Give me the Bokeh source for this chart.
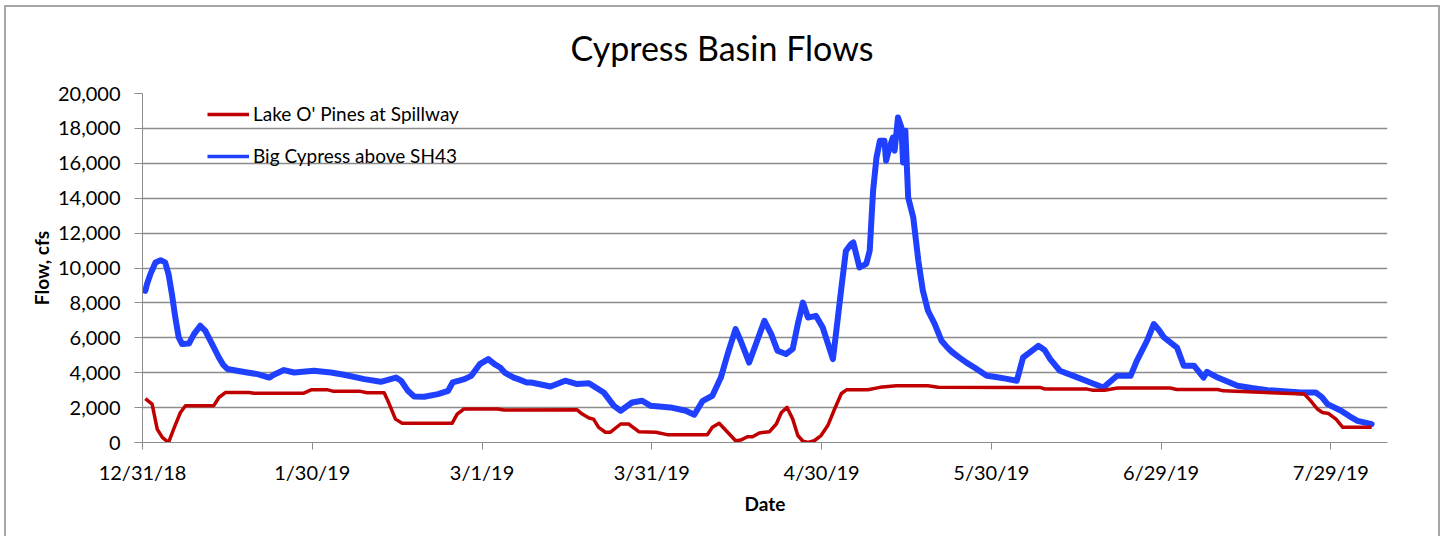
import pandas as pd
from bokeh.plotting import figure
from bokeh.models import (ColumnDataSource, FixedTicker, NumeralTickFormatter,
                          Range1d, Legend, LegendItem)
from bokeh.embed import file_html
from bokeh.resources import INLINE

TITLE = "Cypress Basin Flows"
X_LABEL = "Date"
Y_LABEL = "Flow, cfs"
START = "2018-12-31"
END = "2019-08-08"
tick_labels = ["12/31/18", "1/30/19", "3/1/19", "3/31/19",
               "4/30/19", "5/30/19", "6/29/19", "7/29/19"]
y_ticks = [0, 2000, 4000, 6000, 8000, 10000, 12000, 14000, 16000, 18000, 20000]

red_name = "Lake O' Pines at Spillway"
red_day = [0.5, 1.7, 2.6, 3.5, 4.6, 5.5, 6.7, 7.6, 12.6, 13.5, 14.7, 18.8, 19.7,
           28.4, 29.9, 32.6, 33.8, 38.5, 39.7, 42.7, 43.5, 44.7, 45.9, 54.7,
           55.6, 56.8, 62.7, 63.9, 76.8, 77.7, 78.9, 79.7, 80.6, 81.8, 82.7,
           84.5, 85.9, 87.7, 90.7, 92.7, 99.8, 100.7, 101.9, 103.4, 104.8,
           105.7, 106.9, 107.8, 109.0, 110.8, 112.0, 112.9, 113.9, 114.9,
           115.8, 116.7, 117.6, 118.7, 119.9, 121.1, 122.3, 123.5, 124.4,
           128.2, 130.3, 133.2, 138.8, 140.6, 158.7, 159.5, 166.9, 167.8,
           170.0, 172.3, 181.6, 182.8, 190.0, 191.0, 205.3, 206.4, 207.6,
           208.5, 209.6, 210.9, 212.1, 217.2]
red_cfs = [2520, 2200, 770, 290, 0, 770, 1720, 2110, 2110, 2580, 2870, 2870, 2820,
           2820, 3030, 3030, 2930, 2930, 2850, 2850, 2290, 1340, 1100, 1100,
           1630, 1920, 1920, 1860, 1870, 1630, 1400, 1340, 870, 590, 590,
           1060, 1060, 620, 590, 450, 450, 870, 1100, 590, 100,
           140, 330, 330, 550, 620, 1060, 1720, 2010, 1340,
           400, 70, 0, 100, 400, 970, 1920, 2810, 3020,
           3020, 3160, 3250, 3250, 3170, 3150, 3060, 3060, 3000,
           3000, 3120, 3120, 3040, 3040, 2960, 2780, 2400, 1920,
           1720, 1660, 1340, 870, 870]

blue_name = "Big Cypress above SH43"
blue_day = [0.5, 0.8, 1.4, 2.3, 3.2, 4.0, 4.6, 5.2, 5.8, 6.4, 7.0, 8.2, 9.1, 10.2,
            11.1, 12.3, 13.5, 14.2, 15.0, 16.7, 18.5, 20.3, 22.4, 23.2, 25.0,
            26.8, 30.3, 33.3, 35.6, 39.2, 42.1, 44.8, 45.7, 46.9, 48.0, 49.8,
            52.2, 54.0, 54.8, 56.9, 58.1, 59.6, 61.1, 62.2, 63.2, 64.0, 65.6,
            66.4, 67.9, 68.7, 72.1, 74.7, 76.8, 78.9, 81.5, 83.3, 84.5, 86.5,
            88.3, 89.8, 93.3, 96.0, 97.5, 99.0, 100.7, 102.2, 103.4, 104.8,
            105.7, 107.2, 108.4, 109.9, 111.1, 112.2, 113.7, 114.9, 115.8,
            116.7, 117.6, 119.0, 120.2, 122.0, 122.6, 123.5, 124.3, 125.2,
            125.6, 126.7, 127.9, 128.5, 129.1, 129.7, 130.3, 131.1, 131.4,
            132.0, 132.6, 132.9, 133.5, 134.1, 134.4, 134.8, 135.3, 136.2,
            137.1, 137.9, 138.8, 140.0, 141.2, 142.2, 143.0, 144.3, 145.6,
            147.0, 149.2, 150.5, 152.5, 154.5, 155.6, 156.8, 158.3, 159.4,
            160.4, 162.1, 164.5, 167.5, 169.8, 172.2, 174.6, 175.7, 177.5,
            178.7, 179.6, 180.5, 182.8, 184.0, 185.8, 187.5, 188.1, 190.0,
            193.5, 196.0, 198.8, 204.7, 207.3, 208.4, 209.4, 211.8, 213.3,
            214.7, 217.2]
blue_cfs = [8690, 9080, 9650, 10320, 10450, 10320, 9650, 8500, 7160, 6020, 5640,
            5670, 6210, 6690, 6400, 5640, 4870, 4480, 4210, 4110, 4010, 3920,
            3720, 3880, 4150, 4010, 4110, 4010, 3880, 3630, 3480, 3720, 3540,
            2960, 2640, 2620, 2770, 2960, 3440, 3630, 3820, 4490, 4780, 4490,
            4300, 4010, 3720, 3630, 3440, 3440, 3210, 3540, 3350, 3400, 2870,
            2100, 1820, 2290, 2390, 2100, 2010, 1820, 1590, 2390, 2680, 3720,
            5070, 6500, 5830, 4580, 5640, 6970, 6210, 5260, 5070, 5370, 6790,
            8020, 7160, 7260, 6590, 4780, 6400, 8880, 10990, 11370, 11460,
            10030, 10240, 10990, 14420, 16330, 17290, 17290, 16140, 16900,
            17480, 16720, 18620, 18050, 16050, 17860, 14040, 12890, 10410,
            8690, 7550, 6790, 5830, 5450, 5200, 4880, 4580, 4300, 3820, 3770,
            3660, 3540, 4870, 5160, 5540, 5300, 4780, 4110, 3820, 3440, 3150,
            3820, 3820, 4680, 5830, 6790, 6450, 6020, 5440, 4400, 4400, 3720,
            4050, 3720, 3250, 3120, 3000, 2870, 2870, 2600, 2200, 1820, 1500,
            1240, 1050]

RED = "#c00000"
BLUE = "#2040ff"
FONT = "Lato"
NAN = float("nan")

t0 = pd.Timestamp(START)
red_x = t0 + pd.to_timedelta(red_day, unit="D")
blue_x = t0 + pd.to_timedelta(blue_day, unit="D")
tick_dates = pd.to_datetime(tick_labels, format="%m/%d/%y")
tick_ms = [float(d.value // 10**6) for d in tick_dates]

p = figure(width=1441, height=536, x_axis_type="datetime",
           x_range=Range1d(t0, pd.Timestamp(END)), y_range=Range1d(0, 20000),
           output_backend="svg", toolbar_location=None,
           min_border_left=142, min_border_right=54,
           min_border_top=93, min_border_bottom=94)
p.styles = {"box-shadow": ("inset 4px 5px 0 0 white, inset -1px 0 0 0 white, "
                           "inset 6px 7px 0 0 #a6a6a6, inset -3px 0 0 0 #a6a6a6")}
p.border_fill_alpha = 0
p.background_fill_color = "white"
p.outline_line_color = None

p.title.text = TITLE
p.title.align = "left"
p.title.offset = 428
p.title.text_font = FONT
p.title.text_font_size = "34px"
p.title.text_font_style = "normal"
p.title.text_color = "black"
p.title.vertical_align = "top"
p.title.standoff = 48

p.line(blue_x, blue_cfs, line_color=BLUE, line_width=6, line_join="round",
       line_cap="round")
p.line(red_x, red_cfs, line_color=RED, line_width=3.5, line_join="round")

leg_red = p.line(x=[NAN], y=[NAN], line_color=RED, line_width=3.5)
leg_blue = p.line(x=[NAN], y=[NAN], line_color=BLUE, line_width=3.5)
legend = Legend(items=[LegendItem(label=red_name, renderers=[leg_red]),
                       LegendItem(label=blue_name, renderers=[leg_blue])],
                location=(65, 275), orientation="vertical",
                glyph_width=42, glyph_height=20, label_height=20,
                spacing=19, padding=5, margin=0, label_standoff=4,
                background_fill_alpha=0, border_line_color=None,
                label_text_font=FONT, label_text_font_size="19px",
                label_text_color="black")
p.add_layout(legend, "center")

xa = p.xaxis[0]
xa.ticker = FixedTicker(ticks=tick_ms)
xa.major_label_overrides = {t: lab for t, lab in zip(tick_ms, tick_labels)}
xa.minor_tick_line_color = None
xa.major_tick_in = 0
xa.major_tick_out = 7
xa.axis_line_color = "#8c8c8c"
xa.major_tick_line_color = "#8c8c8c"
xa.major_label_text_font = FONT
xa.major_label_text_font_size = "20px"
xa.major_label_text_color = "black"
xa.major_label_standoff = 10
xa.axis_label = X_LABEL
xa.axis_label_text_font = FONT
xa.axis_label_text_font_size = "19px"
xa.axis_label_text_font_style = "bold"
xa.axis_label_text_color = "black"
xa.axis_label_standoff = 5

ya = p.yaxis[0]
ya.ticker = FixedTicker(ticks=y_ticks)
ya.formatter = NumeralTickFormatter(format="0,0")
ya.minor_tick_line_color = None
ya.major_tick_in = 0
ya.major_tick_out = 8
ya.axis_line_color = "#8c8c8c"
ya.major_tick_line_color = "#8c8c8c"
ya.major_label_text_font = FONT
ya.major_label_text_font_size = "20px"
ya.major_label_text_color = "black"
ya.major_label_standoff = 14
ya.axis_label = Y_LABEL
ya.axis_label_text_font = FONT
ya.axis_label_text_font_size = "19px"
ya.axis_label_text_font_style = "bold"
ya.axis_label_text_color = "black"
ya.axis_label_standoff = 2

p.xgrid.grid_line_color = None
p.ygrid.ticker = FixedTicker(ticks=y_ticks)
p.ygrid.grid_line_color = "#8c8c8c"
p.ygrid.grid_line_width = 1.3

open("out.html", "w").write(file_html(p, INLINE))
